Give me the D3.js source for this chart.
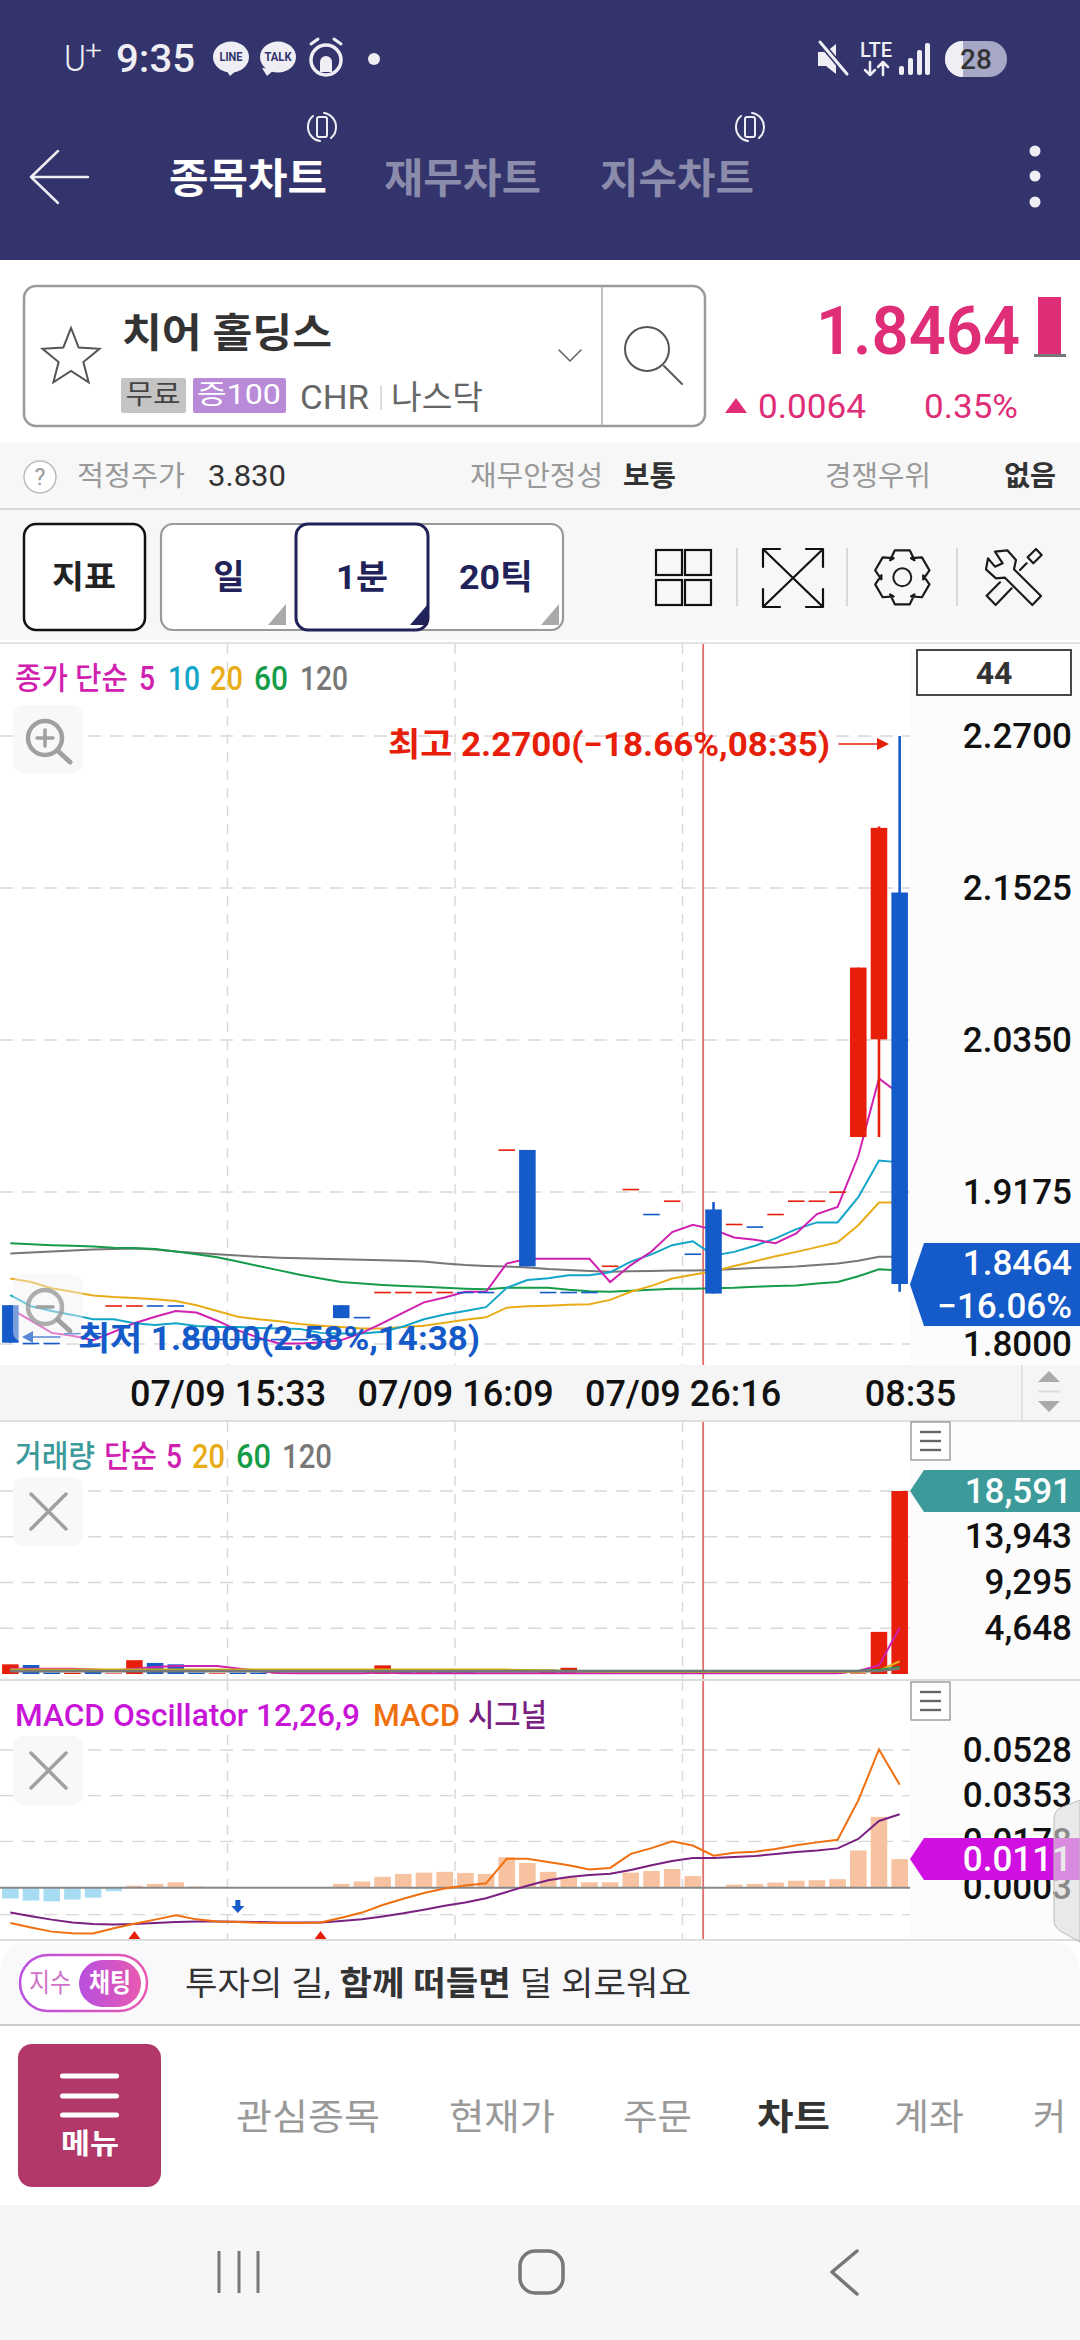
<!DOCTYPE html>
<html><head><meta charset="utf-8">
<script src="https://cdn.jsdelivr.net/npm/d3@7/dist/d3.min.js"></script>
<style>html,body{margin:0;padding:0;background:#fff}svg{display:block}text{font-family:Roboto,"Noto Sans CJK KR",sans-serif}</style>
</head><body>
<script>
// ---------- chart data ----------
const candleUp=[0,0,0,0,0,1,1,0,0,0,0,0,0,0,0,0,0,0,1,1,1,1,0,0,1,0,0,0,0,1,1,0,1,0,0,1,0,1,1,1,1,1,1,0];
const opens =[1.830,1.801,1.801,1.8086,1.8086,1.830,1.830,1.830,1.830,1.804,1.804,1.804,1.804,1.804,1.804,1.804,1.830,1.821,1.8404,1.8404,1.8404,1.8404,1.8404,1.8404,1.9505,1.950,1.8404,1.8404,1.8404,1.8607,1.920,1.9007,1.911,1.870,1.904,1.893,1.891,1.9007,1.911,1.911,1.918,1.960,2.0355,2.149];
const closes=[1.801,1.801,1.801,1.8086,1.8086,1.830,1.830,1.830,1.830,1.804,1.804,1.804,1.804,1.804,1.804,1.804,1.820,1.821,1.8404,1.8404,1.8404,1.8404,1.8404,1.8404,1.9505,1.860,1.8404,1.8404,1.8404,1.8607,1.920,1.9007,1.911,1.870,1.839,1.893,1.891,1.9007,1.911,1.911,1.918,2.091,2.199,1.8464];
const highs =[1.830,1.801,1.801,1.8086,1.8086,1.830,1.830,1.830,1.830,1.804,1.804,1.804,1.804,1.804,1.804,1.804,1.830,1.821,1.8404,1.8404,1.8404,1.8404,1.8404,1.8404,1.9505,1.950,1.8404,1.8404,1.8404,1.8607,1.920,1.9007,1.911,1.870,1.9097,1.893,1.891,1.9007,1.911,1.911,1.918,2.091,2.200,2.270];
const lows  =[1.801,1.801,1.801,1.8086,1.8086,1.830,1.830,1.830,1.830,1.804,1.804,1.804,1.804,1.804,1.804,1.804,1.820,1.821,1.8404,1.8404,1.8404,1.8404,1.8404,1.8404,1.9505,1.860,1.8404,1.8404,1.8404,1.8607,1.920,1.9007,1.911,1.870,1.839,1.893,1.891,1.9007,1.911,1.911,1.918,1.960,1.960,1.8404];
const ma5 =[1.8273,1.8180,1.8086,1.8064,1.8030,1.8094,1.8161,1.8210,1.8255,1.8243,1.8180,1.8105,1.8049,1.8004,1.8004,1.8011,1.8030,1.8086,1.8161,1.8243,1.8322,1.8360,1.8404,1.8404,1.8622,1.8659,1.8659,1.8659,1.8659,1.8479,1.8610,1.8715,1.8865,1.8921,1.8884,1.8824,1.8805,1.8779,1.8854,1.9004,1.9060,1.9453,2.0052,1.9932];
const ma10=[1.8378,1.8292,1.8255,1.8225,1.8191,1.8191,1.8161,1.8146,1.8161,1.8139,1.8131,1.8131,1.8124,1.8120,1.8116,1.8086,1.8082,1.8082,1.8094,1.8135,1.8191,1.8228,1.8255,1.8285,1.8434,1.8494,1.8509,1.8532,1.8532,1.8554,1.8637,1.8693,1.8764,1.8794,1.8685,1.8712,1.8760,1.8816,1.8888,1.8940,1.8940,1.9135,1.9419,1.9404];
const ma20=[1.8506,1.8479,1.8431,1.8404,1.8375,1.8363,1.8356,1.8345,1.8333,1.8300,1.8255,1.8210,1.8191,1.8176,1.8154,1.8142,1.8131,1.8120,1.8120,1.8131,1.8142,1.8165,1.8187,1.8206,1.8281,1.8292,1.8296,1.8303,1.8307,1.8341,1.8404,1.8449,1.8506,1.8536,1.8562,1.8603,1.8640,1.8678,1.8712,1.8749,1.8786,1.8918,1.9094,1.9094];
const ma60=[1.8779,1.8771,1.8764,1.8760,1.8753,1.8745,1.8742,1.8734,1.8715,1.8693,1.8670,1.8637,1.8603,1.8569,1.8536,1.8506,1.8479,1.8468,1.8457,1.8449,1.8442,1.8434,1.8427,1.8423,1.8434,1.8434,1.8434,1.8419,1.8408,1.8404,1.8412,1.8419,1.8427,1.8427,1.8431,1.8434,1.8442,1.8449,1.8453,1.8468,1.8479,1.8524,1.8577,1.8569];
const ma120=[1.8700,1.8708,1.8715,1.8723,1.8730,1.8734,1.8738,1.8730,1.8715,1.8704,1.8693,1.8685,1.8674,1.8667,1.8663,1.8659,1.8655,1.8652,1.8648,1.8644,1.8637,1.8622,1.8610,1.8603,1.8599,1.8592,1.8580,1.8573,1.8565,1.8558,1.8562,1.8565,1.8569,1.8569,1.8573,1.8580,1.8588,1.8592,1.8599,1.8610,1.8622,1.8644,1.8674,1.8674];
const volumes=[982,912,150,120,210,60,1403,1122,982,140,70,140,140,50,50,40,50,40,877,210,210,210,210,50,40,40,450,631,50,40,30,30,30,30,30,30,30,30,30,40,50,60,4279,18591];
const volUp  =[1,0,0,1,0,1,1,0,0,0,1,0,0,1,0,0,1,0,1,0,1,0,0,1,1,0,1,1,0,1,0,1,0,1,0,1,1,1,1,1,1,1,1,1];
const volMa5 =[525,525,525,525,455,350,525,700,805,805,805,560,315,105,70,70,70,70,140,70,70,70,70,70,70,70,70,70,70,70,70,70,70,70,70,70,70,70,70,70,70,315,875,4690];
const volMa20=[445,445,445,445,445,445,445,445,445,445,445,445,445,445,445,445,445,445,445,445,445,445,445,445,445,400,350,300,250,210,210,210,210,210,210,210,210,210,210,210,210,210,350,1295];
const volMa60=[330,330,330,330,330,330,330,330,330,330,330,330,330,330,330,330,330,330,330,330,330,330,330,330,330,330,330,330,330,330,330,330,330,330,330,330,330,330,330,330,330,330,420,700];
const volMa120=[280,280,280,280,280,280,280,280,280,280,280,280,280,280,280,280,280,280,280,280,280,280,280,280,280,280,280,280,280,280,280,280,280,280,280,280,280,280,280,280,280,280,300,560];
const oscillator=[-.0041,-.0049,-.0052,-.0045,-.0038,-.0013,.0008,.0015,.0021,.0005,.0004,.0001,.0001,.0001,.0001,.0001,.0015,.0024,.0042,.0053,.0058,.0061,.0057,.0053,.0117,.0095,.0061,.0040,.0021,.0021,.0058,.0064,.0072,.0045,.0001,.0012,.0015,.0020,.0027,.0029,.0033,.0143,.0272,.0110];
const macd=[-.0135,-.0152,-.0168,-.0174,-.0175,-.0155,-.0138,-.0122,-.0105,-.0121,-.0129,-.0131,-.0134,-.0135,-.0135,-.0133,-.0115,-.0095,-.0066,-.0042,-.0020,-.0003,.0009,.0017,.0111,.0111,.0099,.0086,.0070,.0076,.0130,.0152,.0178,.0162,.0123,.0134,.0138,.0149,.0163,.0174,.0184,.0335,.0530,.0395];
const signal=[-.0095,-.0109,-.0122,-.0133,-.0139,-.0141,-.0139,-.0135,-.0131,-.0129,-.0129,-.0130,-.0131,-.0133,-.0133,-.0133,-.0127,-.0121,-.0110,-.0098,-.0084,-.0069,-.0056,-.0040,-.0016,.0008,.0029,.0041,.0049,.0054,.0068,.0086,.0103,.0114,.0114,.0118,.0122,.0129,.0137,.0143,.0151,.0187,.0256,.0282];
const priceTicks=[2.27,2.1525,2.035,1.9175,1.80];
const volumeTicks=[18591,13943,9295,4648];
const macdTicks=[0.0528,0.0353,0.0178,0.0003];
const macdGridExtra=[-0.0103];
const xTickIdx=[11,22,33,44];
const xTickLabels=["07/09 15:33","07/09 16:09","07/09 26:16","08:35"];
const crossIdx=34;
const sellMarkers=[11];
const buyMarkers=[6,15];

// ---------- palette ----------
const RED="#e61e0a",BLUE="#145ac8",MAG="#d020b0",CYAN="#12a5c8",AMB="#e8ac18",GRN="#159c48",GRY="#777777",TEAL="#3c9a9a",HDR="#33346b",PINK="#e02d78";

const svg=d3.select("body").append("svg").attr("width",1080).attr("height",2340).attr("viewBox","0 0 1080 2340");
function t(p,x,y,s,o={}){const e=p.append("text").attr("x",x).attr("y",y).attr("dominant-baseline","central").attr("font-size",o.size||30).attr("font-weight",o.weight||400).attr("fill",o.fill||"#333").attr("text-anchor",o.anchor||"start").text(s);
 if(o.w)e.attr("textLength",o.w).attr("lengthAdjust","spacingAndGlyphs");if(o.family)e.style("font-family",o.family);return e;}
function r(p,x,y,w,h,f,o={}){return p.append("rect").attr("x",x).attr("y",y).attr("width",w).attr("height",h).attr("fill",f).attr("rx",o.rx||0).attr("stroke",o.stroke||"none").attr("stroke-width",o.sw||0);}
function pth(p,d,s,sw,f){return p.append("path").attr("d",d).attr("fill",f||"none").attr("stroke",s||"none").attr("stroke-width",sw||0).attr("stroke-linecap","round").attr("stroke-linejoin","round");}

// ---------- x scales ----------
const xEdge=d3.scaleLinear().domain([0,44]).range([0,910]);
const xBand=d3.scaleBand().domain(d3.range(44)).range([0,910]).paddingInner(0.2).paddingOuter(0.1);
const cx=i=>xEdge(i+0.5);

// ---------- header ----------
r(svg,0,0,1080,260,HDR);
const W="#eeeef4";
t(svg,64,59,"U",{size:36,weight:300,fill:W,w:22}); t(svg,85,50,"+",{size:26,weight:300,fill:W,w:17});
t(svg,116,59,"9:35",{size:38,weight:500,fill:W,w:79});
[[231,230,"LINE",23],[278,267,"TALK",27]].forEach(([x,tx,s,w])=>{svg.append("ellipse").attr("cx",x).attr("cy",57).attr("rx",18).attr("ry",15.5).attr("fill",W);
 pth(svg,`M${tx-5} 68L${tx} 76L${tx+8} 69Z`,null,0,W);t(svg,x,57,s,{size:12,weight:700,fill:HDR,anchor:"middle",w});});
svg.append("circle").attr("cx",326).attr("cy",60).attr("r",15).attr("fill","none").attr("stroke",W).attr("stroke-width",3.5);
pth(svg,"M311 44l7-5M341 44l-7-5",W,3);
pth(svg,"M320 72V62a6 6 0 0 1 12 0V72z",null,0,W);
svg.append("circle").attr("cx",374).attr("cy",59).attr("r",6).attr("fill",W);
pth(svg,"M818 52h8l10-8v30l-10-8h-8z",null,0,W);pth(svg,"M820 42l27 32",HDR,6);pth(svg,"M820 42l27 32",W,3);
t(svg,876,50,"LTE",{size:20,weight:500,fill:W,anchor:"middle",w:32});
pth(svg,"M870 62v13m-5-5l5 5 5-5M883 75V62m-5 5l5-5 5 5",W,2.5);
[[899,66],[908,58],[917,50],[925,43]].forEach(([x,y])=>r(svg,x,y,5,75-y,W,{rx:2}));
r(svg,945,41,62,36,"#a7a8c6",{rx:18});pth(svg,"M963 41a18 18 0 0 0 0 36z",null,0,W);
t(svg,976,59,"28",{size:28,weight:500,fill:"#333",anchor:"middle"});
[322,750].forEach(x=>{r(svg,x-5,117,10,20,"none",{rx:2,stroke:W,sw:2});
 pth(svg,`M${x+2} 113a14 14 0 0 1 12 14M${x-2} 141a14 14 0 0 1-12-14`,W,2);pth(svg,`M${x-9} 116a14 14 0 0 0-5 11M${x+9} 138a14 14 0 0 0 5-11`,W,2);});
pth(svg,"M58 151L31 177L58 203M31 177H88",W,2.5);
t(svg,169,179,"종목차트",{size:41,weight:700,fill:"#fff",w:158});
t(svg,384,179,"재무차트",{size:41,weight:700,fill:"#8b8bac",w:157});
t(svg,600,179,"지수차트",{size:41,weight:700,fill:"#8b8bac",w:154});
[151,176,202].forEach(y=>svg.append("circle").attr("cx",1035).attr("cy",y).attr("r",5.5).attr("fill",W));

// ---------- stock box ----------
r(svg,24,286,681,140,"#fff",{rx:12,stroke:"#9a9a9a",sw:2.5});
svg.append("line").attr("x1",602).attr("x2",602).attr("y1",286).attr("y2",426).attr("stroke","#aaa").attr("stroke-width",1.5);
const star=d3.range(10).map(k=>{const a=-Math.PI/2+k*Math.PI/5,R=k%2?13:30;return [71+R*Math.cos(a),358+R*Math.sin(a)];});
svg.append("path").attr("d",d3.line()(star)+"Z").attr("fill","none").attr("stroke","#555").attr("stroke-width",2);
t(svg,122,333,"치어 홀딩스",{size:40,weight:700,fill:"#333",w:210});
r(svg,121,378,65,35,"#c4c4c4",{rx:2});t(svg,153,395,"무료",{size:27,fill:"#444",anchor:"middle",w:55});
r(svg,193,378,93,35,"#b98ad8",{rx:2});t(svg,239,395,"증100",{size:27,fill:"#fff",anchor:"middle",w:84});
t(svg,300,397,"CHR",{size:34,fill:"#666",w:69});
svg.append("line").attr("x1",381).attr("x2",381).attr("y1",385).attr("y2",410).attr("stroke","#ddd").attr("stroke-width",2);
t(svg,391,397,"나스닥",{size:33,fill:"#666",w:92});
pth(svg,"M559 350l11 11 11-11","#666",1.6);
svg.append("ellipse").attr("cx",647).attr("cy",349).attr("rx",22).attr("ry",22).attr("fill","none").attr("stroke","#555").attr("stroke-width",2);
pth(svg,"M664 366l18 18","#555",2);
t(svg,1020,331,"1.8464",{size:66,weight:600,fill:PINK,anchor:"end",w:204});
r(svg,1038,297,23,58,PINK);r(svg,1034,354,32,3,"#777");
pth(svg,"M736 398l11 15h-22z",null,0,PINK);
t(svg,758,406,"0.0064",{size:33,fill:PINK,w:108});
t(svg,924,406,"0.35%",{size:33,fill:PINK,w:94});

// ---------- info bar & toolbar ----------
r(svg,0,443,1080,197,"#f7f7f7");
svg.append("line").attr("x1",0).attr("x2",1080).attr("y1",509).attr("y2",509).attr("stroke","#ccc").attr("stroke-width",1.5);
svg.append("circle").attr("cx",40).attr("cy",477).attr("r",16).attr("fill","#fff").attr("stroke","#bbb").attr("stroke-width",1.5);
t(svg,40,477,"?",{size:23,fill:"#999",anchor:"middle"});
t(svg,77,476,"적정주가",{size:28,fill:"#999",w:108});
t(svg,208,476,"3.830",{size:29,fill:"#333",w:78});
t(svg,470,476,"재무안정성",{size:28,fill:"#999",w:133});
t(svg,623,476,"보통",{size:28,weight:700,fill:"#333",w:53});
t(svg,825,476,"경쟁우위",{size:28,fill:"#999",w:106});
t(svg,1004,476,"없음",{size:28,weight:700,fill:"#333",w:52});
r(svg,24,524,121,106,"#fff",{rx:12,stroke:"#111",sw:2.5});
t(svg,84,577,"지표",{size:32,weight:600,fill:"#222",anchor:"middle",w:64});
r(svg,161,524,402,106,"#fff",{rx:12,stroke:"#999",sw:2.2});
r(svg,296,524,132,106,"#fff",{rx:12,stroke:"#22225a",sw:3});
t(svg,229,577,"일",{size:34,weight:700,fill:"#22225a",anchor:"middle"});
t(svg,362,577,"1분",{size:34,weight:700,fill:"#22225a",anchor:"middle",w:52});
t(svg,496,577,"20틱",{size:34,weight:700,fill:"#22225a",anchor:"middle",w:74});
[[268,622,"#aaa"],[410,622,"#22225a"],[541,622,"#aaa"]].forEach(([x,y,c])=>pth(svg,`M${x+18} ${y-18}V${y+3}H${x}z`,null,0,c));
[[656,550],[685,550],[656,580],[685,580]].forEach(([x,y])=>r(svg,x,y,26,25,"none",{stroke:"#111",sw:2.2}));
[737,847,957].forEach(x=>svg.append("line").attr("x1",x).attr("x2",x).attr("y1",548).attr("y2",606).attr("stroke","#ccc").attr("stroke-width",1.5));
pth(svg,"M780 549H763V567M806 549H823V567M763 589V607H780M823 589V607H806M764 550L822 606M822 550L764 606","#111",2.2);
const gear=[];d3.range(6).forEach(k=>{const a=k*Math.PI/3-Math.PI/2;[[-.62,21],[-.27,28],[.27,28],[.62,21]].forEach(([da,R])=>gear.push([902.3+R*Math.cos(a+da),577.3+R*Math.sin(a+da)]));});
svg.append("path").attr("d",d3.line()(gear)+"Z").attr("fill","none").attr("stroke","#1a1a1a").attr("stroke-width",2.2).attr("stroke-linejoin","round");
svg.append("circle").attr("cx",902.3).attr("cy",577.3).attr("r",9).attr("fill","none").attr("stroke","#1a1a1a").attr("stroke-width",2);
const tools=svg.append("g").attr("transform","translate(860,535) scale(.3333)");
pth(tools,"M405 50L442 46L468 75L462 103L543 183L517 210L435 128L408 130L378 103L384 70L405 95L428 85Z","#1a1a1a",6.5);
pth(tools,"M528 42L545 60L520 85L503 67ZM500 85L480 105M420 142L380 182L407 210L455 160","#1a1a1a",6.5);

// ---------- pane backgrounds ----------
svg.append("line").attr("x1",0).attr("x2",1080).attr("y1",643).attr("y2",643).attr("stroke","#e4e4e4").attr("stroke-width",2);
r(svg,910,644,170,721,"#fcfcfc");r(svg,910,1421,170,520,"#fcfcfc");
const gridC="#d8d8d8";
function hGrid(ys){svg.append("g").selectAll("line").data(ys).join("line").attr("x1",0).attr("x2",910).attr("y1",d=>d).attr("y2",d=>d).attr("stroke",gridC).attr("stroke-width",1.4).attr("stroke-dasharray","13 9");}
function vGrid(y0,y1){svg.append("g").selectAll("line").data(xTickIdx.slice(0,3)).join("line").attr("x1",d=>xEdge(d)).attr("x2",d=>xEdge(d)).attr("y1",y0).attr("y2",y1).attr("stroke",gridC).attr("stroke-width",1.4).attr("stroke-dasharray","10 8");
 svg.append("line").attr("x1",xEdge(crossIdx)).attr("x2",xEdge(crossIdx)).attr("y1",y0).attr("y2",y1).attr("stroke","#e26a6a").attr("stroke-width",1.8);}
function yAxis(scale,ticks,fmt,size){const g=svg.append("g").attr("transform","translate(1072,0)").call(d3.axisRight(scale).tickValues(ticks).tickFormat(fmt).tickSize(0).tickPadding(0));
 g.select(".domain").remove();g.selectAll("text").attr("text-anchor","end").attr("font-size",size).attr("font-weight",500).attr("fill","#111").style("font-family","Roboto");return g;}
const lineOf=(y,vals)=>d3.line().x((d,i)=>cx(i)).y(d=>y(d))(vals);
function drawLines(y,list){list.forEach(([v,c,w])=>svg.append("path").attr("d",lineOf(y,v)).attr("fill","none").attr("stroke",c).attr("stroke-width",w||2));}
function legend(y,parts){parts.forEach(([x,s,c,w,sz])=>t(svg,x,y,s,{size:sz||30,weight:500,fill:c,w}));}
function tag(y0,y1,c,lines){const m=(y0+y1)/2;svg.append("path").attr("d",d3.line()([[1080,y0],[924,y0],[910,m],[924,y1],[1080,y1]])+"Z").attr("fill",c);
 lines.forEach(([s,yy])=>t(svg,1072,yy,s,{size:35,weight:500,fill:"#fff",anchor:"end",family:"Roboto"}));}
function xButton(y){r(svg,13,y,70,69,"#f8f8f8",{rx:10});pth(svg,`M31 ${y+17}L66 ${y+52}M66 ${y+17}L31 ${y+52}`,"#a0a0a0",3.5);}
function menuBtn(y){r(svg,911,y,39,38,"#fff",{stroke:"#999",sw:1.4});[10,19,28].forEach(d=>svg.append("line").attr("x1",920).attr("x2",941).attr("y1",y+d).attr("y2",y+d).attr("stroke","#666").attr("stroke-width",2.4));}

// ---------- price pane ----------
const yP=d3.scaleLinear().domain([1.80,2.27]).range([1344,736]);
hGrid(priceTicks.map(yP));vGrid(644,1365);
drawLines(yP,[[ma120,GRY],[ma60,GRN],[ma20,AMB],[ma10,CYAN],[ma5,MAG]]);
const cg=svg.append("g");
cg.selectAll("line").data(d3.range(44)).join("line").attr("x1",cx).attr("x2",cx).attr("y1",i=>yP(highs[i])).attr("y2",i=>yP(lows[i])).attr("stroke",i=>candleUp[i]?RED:BLUE).attr("stroke-width",2.6);
cg.selectAll("rect").data(d3.range(44)).join("rect").attr("x",i=>xBand(i)).attr("width",xBand.bandwidth()).attr("y",i=>Math.min(yP(opens[i]),yP(closes[i]))).attr("height",i=>Math.max(1.6,Math.abs(yP(opens[i])-yP(closes[i])))).attr("fill",i=>candleUp[i]?RED:BLUE);
legend(678,[[15,"종가 단순",MAG,113,31],[139,"5",MAG,16,33],[168,"10",CYAN,32,33],[210,"20",AMB,33,33],[254,"60",GRN,34,33],[300,"120",GRY,48,33]]);
function zoomBtn(y,plus){const b=r(svg,13,y,70,68,"#f2f2f2",{rx:10});if(!plus)b.attr("fill-opacity",.45);else b.attr("fill","#f8f8f8");const c=y+33;svg.append("circle").attr("cx",45).attr("cy",c).attr("r",17).attr("fill","none").attr("stroke","#a0a0a0").attr("stroke-width",4.5).attr("stroke-opacity",plus?1:.85);
 pth(svg,`M58 ${c+13}L70 ${c+24}`,"#a0a0a0",5);pth(svg,`M37 ${c}H53`+(plus?`M45 ${c-8}V${c+8}`:""),"#a0a0a0",3.5);}
zoomBtn(705,true);
zoomBtn(1274,false);
t(svg,388,744,"최고 2.2700(−18.66%,08:35)",{size:33,weight:700,fill:RED,w:442});
pth(svg,"M839 744H885",RED,1.5);pth(svg,"M889 744l-12-6v12z",null,0,RED);
t(svg,78,1338,"최저 1.8000(2.58%,14:38)",{size:33,weight:700,fill:BLUE,w:402});
pth(svg,"M26 1337H60","#5a86d6",1.5);pth(svg,"M22 1337l11-6v12z",null,0,"#5a86d6");
r(svg,917,650,154,45,"#fff",{stroke:"#333",sw:1.8});
t(svg,994,673,"44",{size:32,weight:700,fill:"#333",anchor:"middle"});
yAxis(yP,priceTicks,d3.format(".4f"),35);
tag(1243,1326,BLUE,[["1.8464",1263],["−16.06%",1306]]);

// ---------- x axis strip ----------
r(svg,0,1365,1080,56,"#f5f5f5");
const xa=svg.append("g").attr("transform","translate(0,1380)").call(d3.axisBottom(xEdge).tickValues(xTickIdx).tickFormat((d,i)=>xTickLabels[i]).tickSize(0).tickPadding(0));
xa.select(".domain").remove();xa.selectAll("text").attr("font-size",36).attr("font-weight",500).attr("fill","#111").attr("dy",".71em").style("font-family","Roboto");
svg.append("line").attr("x1",1022).attr("x2",1022).attr("y1",1365).attr("y2",1420).attr("stroke","#ddd").attr("stroke-width",1.5);
pth(svg,"M1049 1371l11 11h-22z",null,0,"#aaa");pth(svg,"M1049 1412l11-11h-22z",null,0,"#aaa");
svg.append("line").attr("x1",1038).attr("x2",1060).attr("y1",1391.5).attr("y2",1391.5).attr("stroke","#ddd").attr("stroke-width",2);

// ---------- volume pane ----------
svg.append("line").attr("x1",0).attr("x2",1080).attr("y1",1421).attr("y2",1421).attr("stroke","#ddd").attr("stroke-width",2);
const yV=d3.scaleLinear().domain([0,18591]).range([1674,1491]);
hGrid(volumeTicks.map(yV));vGrid(1422,1680);
svg.append("g").selectAll("rect").data(volumes).join("rect").attr("x",(d,i)=>xBand(i)).attr("width",xBand.bandwidth()).attr("y",d=>yV(d)).attr("height",d=>yV(0)-yV(d)).attr("fill",(d,i)=>volUp[i]?RED:BLUE);
drawLines(yV,[[volMa5,MAG],[volMa20,AMB],[volMa60,GRN],[volMa120,GRY,2.6]]);
legend(1456,[[15,"거래량",TEAL,80,31],[104,"단순",MAG,53,31],[166,"5",MAG,16,33],[192,"20",AMB,33,33],[236,"60",GRN,35,33],[282,"120",GRY,50,33]]);
xButton(1477);menuBtn(1422);
yAxis(yV,volumeTicks,d3.format(","),35);
tag(1470,1512,TEAL,[["18,591",1491]]);

// ---------- MACD pane ----------
svg.append("line").attr("x1",0).attr("x2",1080).attr("y1",1680).attr("y2",1680).attr("stroke","#ddd").attr("stroke-width",2);
svg.append("line").attr("x1",0).attr("x2",1080).attr("y1",1940).attr("y2",1940).attr("stroke","#ddd").attr("stroke-width",2);
const yM=d3.scaleLinear().domain([0.0003,0.0528]).range([1887,1750]);
hGrid(macdTicks.slice(0,3).concat(macdGridExtra).map(yM));vGrid(1681,1939);
svg.append("g").selectAll("rect").data(oscillator).join("rect").attr("x",(d,i)=>xBand(i)).attr("width",xBand.bandwidth()).attr("y",d=>Math.min(yM(0),yM(d))).attr("height",d=>Math.abs(yM(d)-yM(0))).attr("fill",d=>d<0?"#a8dcf2":"#f6c2a0");
svg.append("line").attr("x1",0).attr("x2",910).attr("y1",yM(0)).attr("y2",yM(0)).attr("stroke","#888").attr("stroke-width",2);
drawLines(yM,[[signal,"#7a2080"],[macd,"#f07010"]]);
sellMarkers.forEach(i=>pth(svg,`M${cx(i)-2.5} 1900h5v6h4l-6.500 7l-6.500-7h4z`,null,0,BLUE));
buyMarkers.forEach(i=>pth(svg,`M${cx(i)} 1931l6 8h-12z`,null,0,RED));
legend(1715,[[15,"MACD Oscillator 12,26,9","#c815d8",345,32],[373,"MACD","#f07010",87,32],[468,"시그널","#7a2080",79,31]]);
xButton(1736);menuBtn(1682);
yAxis(yM,macdTicks,d3.format(".4f"),35);
tag(1838,1880,"#d010e0",[["0.0111",1859]]);
svg.append("path").attr("d","M1080 1800L1060 1808Q1054 1811 1054 1820V1920Q1054 1928 1062 1932L1080 1942Z").attr("fill","#dcdcdc").attr("fill-opacity",.6).attr("stroke","#bbb").attr("stroke-width",1);

// ---------- banner ----------
svg.append("path").attr("d","M0 2025V1972Q0 1942 30 1942H1050Q1080 1942 1080 1972V2025Z").attr("fill","#f9f9fc");
svg.append("line").attr("x1",0).attr("x2",1080).attr("y1",2025).attr("y2",2025).attr("stroke","#ccc").attr("stroke-width",2);
const gd=svg.append("defs").append("linearGradient").attr("id","chip").attr("x1",0).attr("x2",1);
gd.append("stop").attr("offset",0).attr("stop-color","#b84fe0");gd.append("stop").attr("offset",1).attr("stop-color","#e85ab0");
r(svg,20,1955,127,56,"#fff",{rx:28,stroke:"url(#chip)",sw:2.5});
r(svg,79,1960,62,47,"url(#chip)",{rx:23.500});
t(svg,50,1983,"지수",{size:26,fill:"#d070c8",anchor:"middle",w:42});
t(svg,110,1983,"채팅",{size:26,weight:700,fill:"#fff",anchor:"middle",w:42});
const bt=svg.append("text").attr("x",185).attr("y",1983).attr("dominant-baseline","central").attr("font-size",33.500).attr("fill","#333");
bt.append("tspan").text("투자의 길, ");bt.append("tspan").attr("font-weight",700).text("함께 떠들면");bt.append("tspan").text(" 덜 외로워요");
bt.attr("textLength",506).attr("lengthAdjust","spacingAndGlyphs");

// ---------- bottom nav ----------
r(svg,18,2044,143,143,"#b2386a",{rx:14});
[2076,2096,2115].forEach(y=>r(svg,60,y-2.5,59,5,"#fff",{rx:2.5}));
t(svg,90,2144,"메뉴",{size:28,weight:700,fill:"#fff",anchor:"middle",w:58});
[["관심종목",236,144,400,"#999"],["현재가",449,106,400,"#999"],["주문",623,69,400,"#999"],["차트",757,73,700,"#333"],["계좌",894,70,400,"#999"]].forEach(([s,x,w,b,c])=>t(svg,x,2118,s,{size:36,weight:b,fill:c,w}));
svg.append("clipPath").attr("id","navClip").append("rect").attr("x",1000).attr("y",2090).attr("width",64).attr("height",60);
t(svg,1033,2118,"커",{size:36,fill:"#999"}).attr("clip-path","url(#navClip)");

r(svg,0,2205,1080,135,"#f5f6f8");
[219,239,258].forEach(x=>svg.append("line").attr("x1",x).attr("x2",x).attr("y1",2251).attr("y2",2293).attr("stroke","#777").attr("stroke-width",3));
r(svg,520,2251,43,42,"none",{rx:15,stroke:"#777",sw:3.5});
pth(svg,"M857 2251L832 2272L857 2294","#777",3.5);
</script>
</body></html>
